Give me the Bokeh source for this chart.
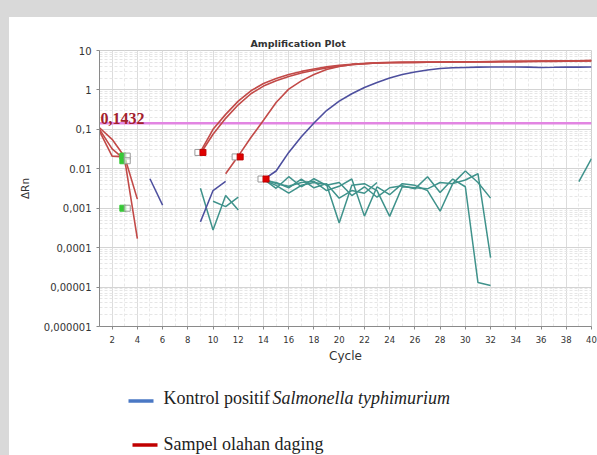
from bokeh.plotting import figure
from bokeh.models import FixedTicker, CustomJSTickFormatter, Range1d, Title, Span
from bokeh.layouts import column
from bokeh.embed import file_html
from bokeh.resources import INLINE
from bokeh.core.properties import value

# ---------------- data ----------------
title_text = "Amplification Plot"
x_label = "Cycle"
y_label = "\u0394Rn"
x_tick_values = list(range(2, 41, 2))
x_minor_values = list(range(1, 41, 2))
y_tick_values = [1e-6, 1e-5, 1e-4, 1e-3, 1e-2, 1e-1, 1, 10]
y_tick_labels = ["0,000001", "0,00001", "0,0001", "0,001", "0.01", "0,1", "1", "10"]
threshold = 0.1432
threshold_label = "0,1432"

# positive control (Salmonella typhimurium)
pos_cycles = list(range(14, 41))
pos_values = [0.0053, 0.0088, 0.026, 0.065, 0.145, 0.3, 0.52, 0.8, 1.15, 1.55, 2.0,
              2.45, 2.85, 3.2, 3.5, 3.65, 3.72, 3.78, 3.8, 3.8, 3.8, 3.78, 3.72,
              3.75, 3.8, 3.78, 3.8]
pos_seg1_cycles = [5, 6]
pos_seg1_values = [0.0056, 0.0012]
pos_seg2_cycles = [9, 10, 11]
pos_seg2_values = [0.00045, 0.0028, 0.0048]

# meat product samples
sampA_cycles = list(range(9, 41))
sampA_values = [0.027, 0.1, 0.24, 0.52, 0.95, 1.45, 1.95, 2.45, 2.95, 3.4, 3.85, 4.2,
                4.5, 4.7, 4.85, 4.95, 5.0, 5.05, 5.1, 5.1, 5.15, 5.2, 5.2, 5.25, 5.3,
                5.3, 5.35, 5.4, 5.4, 5.45, 5.5, 5.6]
sampB_cycles = list(range(9, 41))
sampB_values = [0.024, 0.075, 0.19, 0.42, 0.8, 1.25, 1.7, 2.2, 2.7, 3.15, 3.6, 4.0,
                4.35, 4.6, 4.8, 4.9, 4.95, 5.0, 5.05, 5.1, 5.1, 5.15, 5.2, 5.2, 5.25,
                5.3, 5.3, 5.35, 5.4, 5.4, 5.45, 5.55]
sampC_cycles = list(range(11, 41))
sampC_values = [0.0075, 0.021, 0.062, 0.17, 0.48, 1.05, 1.7, 2.45, 3.3, 3.95, 4.4,
                4.65, 4.85, 4.95, 5.0, 5.0, 5.05, 5.05, 5.1, 5.1, 5.15, 5.15, 5.2,
                5.2, 5.25, 5.3, 5.3, 5.35, 5.4, 5.45]
base1_cycles = [1, 2, 3, 4]
base1_values = [0.11, 0.056, 0.02, 0.0017]
base2_cycles = [1, 2, 3, 4]
base2_values = [0.1, 0.032, 0.017, 0.00017]
base3_cycles = [1, 2, 3]
base3_values = [0.09, 0.021, 0.02]

# negative / noise wells
neg_series = [
    ([9, 10, 11, 12], [0.0032, 0.00028, 0.0021, 0.0009]),
    ([10, 11, 12], [0.0015, 0.0011, 0.0019]),
    (list(range(14, 33)), [0.0055, 0.0032, 0.0063, 0.0035, 0.0056, 0.0038, 0.0045, 0.0021,
                           0.0035, 0.0019, 0.0033, 0.0037, 0.0031, 0.0063, 0.0025, 0.0055,
                           0.0035, 0.000013, 0.000011]),
    (list(range(14, 33)), [0.0052, 0.0038, 0.0024, 0.0038, 0.0045, 0.004, 0.00042, 0.0038,
                           0.0042, 0.0028, 0.00062, 0.0035, 0.0033, 0.0031, 0.0045, 0.0042,
                           0.0052, 0.0075, 0.000056]),
    (list(range(14, 33)), [0.0056, 0.0042, 0.0036, 0.0045, 0.0048, 0.0028, 0.0036, 0.0055,
                           0.00063, 0.0035, 0.0022, 0.0042, 0.0038, 0.0028, 0.00084, 0.0042,
                           0.0088, 0.0045, 0.0018]),
    (list(range(14, 24)), [0.005, 0.0045, 0.0033, 0.0055, 0.0033, 0.0042, 0.0018, 0.0028,
                           0.0024, 0.0045]),
    ([39, 40], [0.0047, 0.018]),
]

# baseline / Ct markers
red_open_cycles = [8.8, 11.75, 13.8]
red_fill_cycles = [9.2, 12.15, 14.2]
red_mark_values = [0.026, 0.02, 0.0055]
green_fill_cycles = [2.85, 2.85, 2.85]
green_open_cycles = [3.2, 3.2, 3.2]
green_mark_values = [0.021, 0.016, 0.001]

legend_pos_label = "Kontrol positif"
legend_pos_species = "Salmonella typhimurium"
legend_samp_label = "Sampel olahan daging"

# ---------------- colours ----------------
RED = "#c24a48"
BLUE = "#4d4f9e"
TEAL = "#3f928b"
PINK = "#e285e2"
GRAY_BG = "#d9d9d9"

# ---------------- chart ----------------
p = figure(width=588, height=348, y_axis_type="log",
           x_range=Range1d(1, 40), y_range=Range1d(1e-6, 10),
           output_backend="svg", toolbar_location=None,
           min_border_left=90, min_border_right=6, min_border_top=33,
           min_border_bottom=37)
p.margin = (17, 0, 0, 9)
p.border_fill_color = "white"
p.background_fill_color = "white"
p.outline_line_color = "#cfcfcf"

p.title = Title(text=title_text, align="left", offset=151, standoff=3,
                text_font="DejaVu Sans", text_font_size="9.5px",
                text_font_style="bold", text_color="#333333")

p.xaxis.ticker = FixedTicker(ticks=x_tick_values, minor_ticks=x_minor_values)
p.yaxis.ticker = FixedTicker(ticks=y_tick_values,
                             minor_ticks=[m * 10.0 ** e for e in range(-6, 1) for m in range(2, 10)])
p.yaxis.formatter = CustomJSTickFormatter(args=dict(labels=y_tick_labels),
                                          code="const e = Math.round(Math.log10(tick)); return labels[e + 6];")
for ax in (p.xaxis, p.yaxis):
    ax.axis_line_color = "#8a8a8a"
    ax.major_tick_line_color = "#8a8a8a"
    ax.major_tick_out = 3
    ax.major_tick_in = 0
    ax.minor_tick_line_color = None
    ax.major_label_text_font = "DejaVu Sans"
    ax.major_label_text_color = "#333333"
    ax.axis_label_text_font = "DejaVu Sans"
    ax.axis_label_text_font_style = "normal"
    ax.axis_label_text_color = "#333333"
p.xaxis.major_label_text_font_size = "8.5px"
p.yaxis.major_label_text_font_size = "10px"
p.xaxis.major_label_standoff = 5
p.yaxis.major_label_standoff = 4
p.xaxis.axis_label = x_label
p.xaxis.axis_label_text_font_size = "12px"
p.xaxis.axis_label_standoff = 3
p.yaxis.axis_label = y_label
p.yaxis.axis_label_text_font_size = "10.5px"
p.yaxis.axis_label_standoff = 10

p.xgrid.grid_line_color = "#dcdcdc"
p.xgrid.minor_grid_line_color = "#e9e9e9"
p.xgrid.minor_grid_line_dash = "3 2"
p.ygrid.grid_line_color = "#d4d4d4"
p.ygrid.minor_grid_line_color = "#e6e6e6"
p.ygrid.minor_grid_line_dash = "3 2"

p.add_layout(Span(location=threshold, dimension="width", line_color=PINK,
                  line_width=2.5, level="underlay"))

for xs, ys in neg_series:
    p.line(xs, ys, line_color=TEAL, line_width=1.5)

p.line(pos_seg1_cycles, pos_seg1_values, line_color=BLUE, line_width=1.5)
p.line(pos_seg2_cycles, pos_seg2_values, line_color=BLUE, line_width=1.5)
p.line(pos_cycles, pos_values, line_color=BLUE, line_width=1.6)

for xs, ys in [(base1_cycles, base1_values), (base2_cycles, base2_values),
               (base3_cycles, base3_values), (sampC_cycles, sampC_values),
               (sampB_cycles, sampB_values), (sampA_cycles, sampA_values)]:
    p.line(xs, ys, line_color=RED, line_width=1.6)

p.rect(green_fill_cycles, green_mark_values, width=6, height=6, width_units="screen",
       height_units="screen", fill_color="#36c936", line_color="#36c936")
p.rect(green_open_cycles, green_mark_values, width=6, height=6, width_units="screen",
       height_units="screen", fill_color="white", fill_alpha=0.6, line_color="#9a9a9a")
p.rect(red_open_cycles, red_mark_values, width=6, height=6, width_units="screen",
       height_units="screen", fill_color="white", line_color="#9a9a9a")
p.rect(red_fill_cycles, red_mark_values, width=6, height=6, width_units="screen",
       height_units="screen", fill_color="#e00000", line_color="#c00000")

p.text(x=[1], y=[threshold], text=[threshold_label], text_font=value("Liberation Serif"),
       text_font_style="bold", text_font_size="16px", text_color="#a3202c",
       text_baseline="bottom", x_offset=1, y_offset=1)

# ---------------- legend strip (its frame is aligned with the chart frame) ----------------
lg = figure(width=588, height=90, x_range=Range1d(99, 591), y_range=Range1d(0, 90),
            output_backend="svg", toolbar_location=None, min_border=0)
lg.margin = (0, 0, 0, 9)
lg.axis.visible = False
lg.grid.visible = False
lg.outline_line_color = None
lg.border_fill_color = "white"
lg.background_fill_color = "white"

lg.line([128, 153], [54.5, 54.5], line_color="#4a78c4", line_width=3.5)
lg.line([132, 157], [10.5, 10.5], line_color="#c00000", line_width=3.5)
lg.text(x=[163], y=[58], text=[legend_pos_label], text_font=value("Liberation Serif"),
        text_font_size="18px", text_color="#222222", text_baseline="alphabetic")
lg.text(x=[272], y=[58], text=[legend_pos_species], text_font=value("Liberation Serif"),
        text_font_size="18px", text_font_style="italic", text_color="#222222",
        text_baseline="alphabetic")
lg.text(x=[163], y=[12], text=[legend_samp_label], text_font=value("Liberation Serif"),
        text_font_size="18px", text_color="#222222", text_baseline="alphabetic")

bg = (f"linear-gradient({GRAY_BG}, {GRAY_BG}) top left / 100% 17px no-repeat, "
      f"linear-gradient({GRAY_BG}, {GRAY_BG}) top left / 9px 100% no-repeat, white")
layout = column(p, lg, spacing=0, styles={"background": bg})

open("out.html", "w").write(file_html(layout, INLINE))
